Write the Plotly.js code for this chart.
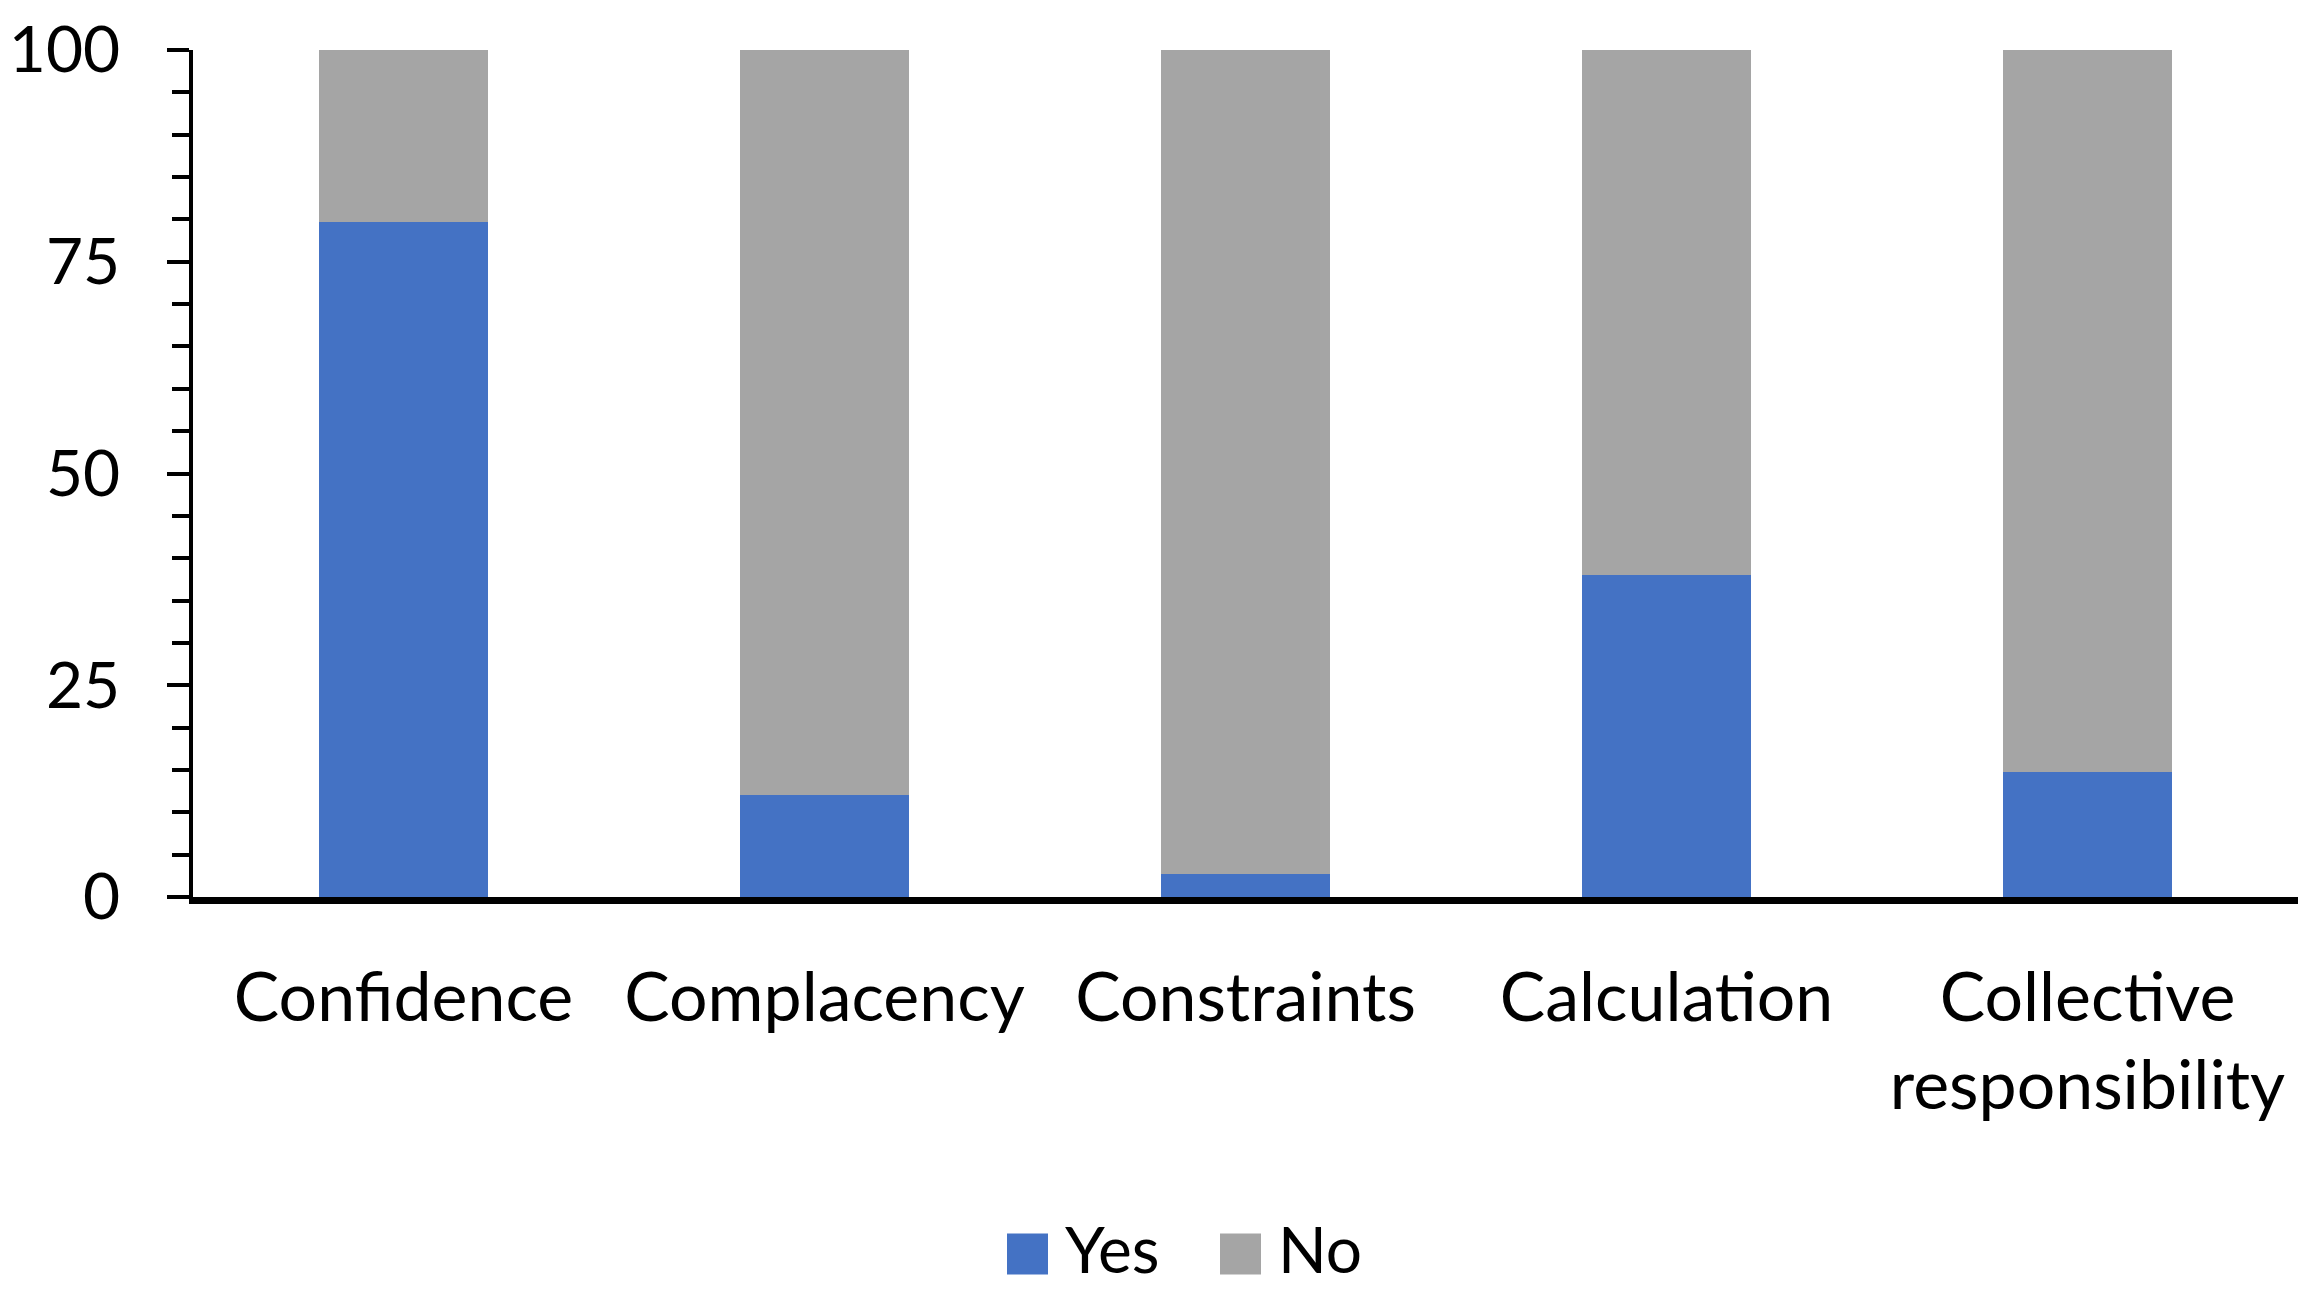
<!DOCTYPE html>
<html>
<head>
<meta charset="utf-8">
<script src="https://cdn.plot.ly/plotly-3.0.1.min.js"></script>
<style>
html, body { margin: 0; padding: 0; background: #ffffff; }
#chart { width: 2302px; height: 1290px; }
</style>
</head>
<body>
<div id="chart"></div>
<script>
const categories = ["Confidence", "Complacency", "Constraints", "Calculation", "Collective<br>responsibility"];
const yesValues = [79.7, 12.1, 2.7, 38.0, 14.8];
const noValues = [20.3, 87.9, 97.3, 62.0, 85.2];
const yTickValues = [0, 25, 50, 75, 100];
const yTickLabels = ["0", "25", "50", "75", "100"];

const FONT = "Lato, 'Open Sans', sans-serif";

const traces = [
  {
    type: "bar",
    name: "Yes",
    x: categories,
    y: yesValues,
    marker: { color: "#4472C4", line: { width: 0 } },
    hoverinfo: "x+y+name"
  },
  {
    type: "bar",
    name: "No",
    x: categories,
    y: noValues,
    marker: { color: "#A5A5A5", line: { width: 0 } },
    hoverinfo: "x+y+name"
  }
];

const layout = {
  width: 2302,
  height: 1290,
  paper_bgcolor: "#ffffff",
  plot_bgcolor: "#ffffff",
  barmode: "stack",
  bargap: 0.6,
  margin: { l: 193, r: 4, t: 50, b: 393, pad: 0 },
  font: { family: FONT, color: "#000000", size: 64 },
  showlegend: true,
  legend: {
    orientation: "h",
    x: (1000 - 193) / 2105,
    xanchor: "left",
    y: -0.39,
    yanchor: "middle",
    font: { family: FONT, size: 64, color: "#000000" },
    traceorder: "normal",
    bgcolor: "rgba(0,0,0,0)"
  },
  xaxis: {
    type: "category",
    showgrid: false,
    zeroline: false,
    showline: true,
    linecolor: "#000000",
    linewidth: 7,
    ticks: "",
    tickfont: { family: FONT, size: 68, color: "#000000" },
    ticklabelstandoff: 35,
    automargin: false,
    fixedrange: true
  },
  yaxis: {
    range: [0, 100],
    tickmode: "array",
    tickvals: yTickValues,
    ticktext: yTickLabels,
    showgrid: false,
    zeroline: false,
    showline: true,
    linecolor: "#000000",
    linewidth: 4,
    ticks: "outside",
    ticklen: 22,
    tickwidth: 4,
    tickcolor: "#000000",
    tickfont: { family: FONT, size: 64, color: "#000000" },
    ticklabelstandoff: 34,
    automargin: false,
    minor: {
      dtick: 5,
      tick0: 0,
      ticks: "outside",
      ticklen: 17,
      tickwidth: 4,
      tickcolor: "#000000",
      showgrid: false
    },
    fixedrange: true
  }
};

function arrangeLegend() {
  // place legend keys as in the reference: large squares, text at given positions
  document.querySelectorAll(".legend .scrollbox").forEach(function (s) {
    s.removeAttribute("clip-path");
  });
  var items = document.querySelectorAll(".legend .traces");
  var targetTextLeft = [1065, 1278];
  var targetCenterY = 1248;
  items.forEach(function (g, i) {
    var t = g.querySelector("text.legendtext");
    if (!t) return;
    var tb = t.getBoundingClientRect();
    var dx = targetTextLeft[i] - tb.left;
    var dy = targetCenterY - (tb.top + tb.bottom) / 2;
    var tr = g.getAttribute("transform") || "translate(0,0)";
    var m = /translate\(\s*([-\d.e]+)[ ,]+([-\d.e]+)\s*\)/.exec(tr);
    var x0 = m ? parseFloat(m[1]) : 0, y0 = m ? parseFloat(m[2]) : 0;
    g.setAttribute("transform", "translate(" + (x0 + dx) + "," + (y0 + dy) + ")");
    var p = g.querySelector(".legendpoints path");
    if (!p) return;
    tb = t.getBoundingClientRect();
    var size = 41, gap = 17;
    var sx = tb.left - gap - size;
    var sy = (tb.top + tb.bottom) / 2 + 6 - size / 2;
    var svg = p.ownerSVGElement;
    var inv = p.parentNode.getScreenCTM().inverse();
    var a = svg.createSVGPoint(); a.x = sx; a.y = sy; a = a.matrixTransform(inv);
    var b = svg.createSVGPoint(); b.x = sx + size; b.y = sy + size; b = b.matrixTransform(inv);
    p.removeAttribute("transform");
    p.setAttribute("d", "M" + a.x + "," + a.y + "H" + b.x + "V" + b.y + "H" + a.x + "Z");
  });
}

Plotly.newPlot("chart", traces, layout, { displayModeBar: false, staticPlot: true }).then(arrangeLegend);
</script>
</body>
</html>
